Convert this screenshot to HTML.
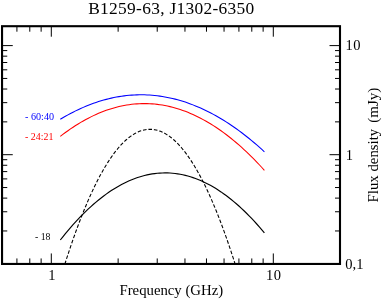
<!DOCTYPE html>
<html><head><meta charset="utf-8">
<style>
html,body{margin:0;padding:0;background:#fff;}
body{width:382px;height:299px;overflow:hidden;position:relative;}
svg{position:absolute;left:0;top:0;display:block;will-change:transform;}
text{font-family:"Liberation Serif",serif;fill:#000;}
</style></head><body>
<svg width="382" height="299" viewBox="0 0 382 299">
<rect x="0" y="0" width="382" height="299" fill="#fff"/>
<defs><clipPath id="cp"><rect x="2.05" y="26.2" width="337.95" height="237.75"/></clipPath></defs>
<g stroke="#000" stroke-width="1.0" fill="none">
<line x1="16.91" y1="26.2" x2="16.91" y2="31.7"/>
<line x1="16.91" y1="263.95" x2="16.91" y2="258.45"/>
<line x1="29.79" y1="26.2" x2="29.79" y2="31.7"/>
<line x1="29.79" y1="263.95" x2="29.79" y2="258.45"/>
<line x1="41.14" y1="26.2" x2="41.14" y2="31.7"/>
<line x1="41.14" y1="263.95" x2="41.14" y2="258.45"/>
<line x1="51.30" y1="26.2" x2="51.30" y2="36.7"/>
<line x1="51.30" y1="263.95" x2="51.30" y2="253.45"/>
<line x1="118.13" y1="26.2" x2="118.13" y2="31.7"/>
<line x1="118.13" y1="263.95" x2="118.13" y2="258.45"/>
<line x1="157.22" y1="26.2" x2="157.22" y2="31.7"/>
<line x1="157.22" y1="263.95" x2="157.22" y2="258.45"/>
<line x1="184.96" y1="26.2" x2="184.96" y2="31.7"/>
<line x1="184.96" y1="263.95" x2="184.96" y2="258.45"/>
<line x1="206.47" y1="26.2" x2="206.47" y2="31.7"/>
<line x1="206.47" y1="263.95" x2="206.47" y2="258.45"/>
<line x1="224.05" y1="26.2" x2="224.05" y2="31.7"/>
<line x1="224.05" y1="263.95" x2="224.05" y2="258.45"/>
<line x1="238.91" y1="26.2" x2="238.91" y2="31.7"/>
<line x1="238.91" y1="263.95" x2="238.91" y2="258.45"/>
<line x1="251.79" y1="26.2" x2="251.79" y2="31.7"/>
<line x1="251.79" y1="263.95" x2="251.79" y2="258.45"/>
<line x1="263.14" y1="26.2" x2="263.14" y2="31.7"/>
<line x1="263.14" y1="263.95" x2="263.14" y2="258.45"/>
<line x1="273.30" y1="26.2" x2="273.30" y2="36.7"/>
<line x1="273.30" y1="263.95" x2="273.30" y2="253.45"/>
<line x1="2.05" y1="230.96" x2="7.25" y2="230.96"/>
<line x1="340.0" y1="230.96" x2="335.0" y2="230.96"/>
<line x1="2.05" y1="211.75" x2="7.25" y2="211.75"/>
<line x1="340.0" y1="211.75" x2="335.0" y2="211.75"/>
<line x1="2.05" y1="198.12" x2="7.25" y2="198.12"/>
<line x1="340.0" y1="198.12" x2="335.0" y2="198.12"/>
<line x1="2.05" y1="187.54" x2="7.25" y2="187.54"/>
<line x1="340.0" y1="187.54" x2="335.0" y2="187.54"/>
<line x1="2.05" y1="178.90" x2="7.25" y2="178.90"/>
<line x1="340.0" y1="178.90" x2="335.0" y2="178.90"/>
<line x1="2.05" y1="171.60" x2="7.25" y2="171.60"/>
<line x1="340.0" y1="171.60" x2="335.0" y2="171.60"/>
<line x1="2.05" y1="165.27" x2="7.25" y2="165.27"/>
<line x1="340.0" y1="165.27" x2="335.0" y2="165.27"/>
<line x1="2.05" y1="159.69" x2="7.25" y2="159.69"/>
<line x1="340.0" y1="159.69" x2="335.0" y2="159.69"/>
<line x1="2.05" y1="154.70" x2="12.75" y2="154.70"/>
<line x1="340.0" y1="154.70" x2="329.5" y2="154.70"/>
<line x1="2.05" y1="121.86" x2="7.25" y2="121.86"/>
<line x1="340.0" y1="121.86" x2="335.0" y2="121.86"/>
<line x1="2.05" y1="102.65" x2="7.25" y2="102.65"/>
<line x1="340.0" y1="102.65" x2="335.0" y2="102.65"/>
<line x1="2.05" y1="89.02" x2="7.25" y2="89.02"/>
<line x1="340.0" y1="89.02" x2="335.0" y2="89.02"/>
<line x1="2.05" y1="78.44" x2="7.25" y2="78.44"/>
<line x1="340.0" y1="78.44" x2="335.0" y2="78.44"/>
<line x1="2.05" y1="69.80" x2="7.25" y2="69.80"/>
<line x1="340.0" y1="69.80" x2="335.0" y2="69.80"/>
<line x1="2.05" y1="62.50" x2="7.25" y2="62.50"/>
<line x1="340.0" y1="62.50" x2="335.0" y2="62.50"/>
<line x1="2.05" y1="56.17" x2="7.25" y2="56.17"/>
<line x1="340.0" y1="56.17" x2="335.0" y2="56.17"/>
<line x1="2.05" y1="50.59" x2="7.25" y2="50.59"/>
<line x1="340.0" y1="50.59" x2="335.0" y2="50.59"/>
<line x1="2.05" y1="45.60" x2="12.75" y2="45.60"/>
<line x1="340.0" y1="45.60" x2="329.5" y2="45.60"/>
</g>
<g clip-path="url(#cp)" fill="none">
<path d="M60.00,279.96 L61.50,274.98 L63.00,270.08 L64.50,265.27 L66.00,260.54 L67.50,255.90 L69.00,251.33 L70.50,246.86 L72.00,242.46 L73.50,238.15 L75.00,233.93 L76.50,229.78 L78.00,225.72 L79.50,221.75 L81.00,217.85 L82.50,214.05 L84.00,210.32 L85.50,206.68 L87.00,203.12 L88.50,199.65 L90.00,196.26 L91.50,192.95 L93.00,189.73 L94.50,186.59 L96.00,183.54 L97.50,180.57 L99.00,177.68 L100.50,174.87 L102.00,172.15 L103.50,169.52 L105.00,166.97 L106.50,164.50 L108.00,162.11 L109.50,159.81 L111.00,157.59 L112.50,155.46 L114.00,153.41 L115.50,151.44 L117.00,149.56 L118.50,147.76 L120.00,146.04 L121.50,144.41 L123.00,142.86 L124.50,141.39 L126.00,140.01 L127.50,138.72 L129.00,137.50 L130.50,136.37 L132.00,135.33 L133.50,134.36 L135.00,133.49 L136.50,132.69 L138.00,131.98 L139.50,131.35 L141.00,130.81 L142.50,130.35 L144.00,129.97 L145.50,129.68 L147.00,129.47 L148.50,129.34 L150.00,129.30 L151.50,129.34 L153.00,129.47 L154.50,129.68 L156.00,129.97 L157.50,130.35 L159.00,130.81 L160.50,131.35 L162.00,131.98 L163.50,132.69 L165.00,133.49 L166.50,134.36 L168.00,135.33 L169.50,136.37 L171.00,137.50 L172.50,138.72 L174.00,140.01 L175.50,141.39 L177.00,142.86 L178.50,144.41 L180.00,146.04 L181.50,147.76 L183.00,149.56 L184.50,151.44 L186.00,153.41 L187.50,155.46 L189.00,157.59 L190.50,159.81 L192.00,162.11 L193.50,164.50 L195.00,166.97 L196.50,169.52 L198.00,172.15 L199.50,174.87 L201.00,177.68 L202.50,180.57 L204.00,183.54 L205.50,186.59 L207.00,189.73 L208.50,192.95 L210.00,196.26 L211.50,199.65 L213.00,203.12 L214.50,206.68 L216.00,210.32 L217.50,214.05 L219.00,217.85 L220.50,221.75 L222.00,225.72 L223.50,229.78 L225.00,233.93 L226.50,238.15 L228.00,242.46 L229.50,246.86 L231.00,251.33 L232.50,255.90 L234.00,260.54 L235.50,265.27 L237.00,270.08 L238.50,274.98 L240.00,279.96" stroke="#000" stroke-width="1.08" stroke-dasharray="3.6 1.9"/>
<path d="M60.30,240.00 L62.85,236.78 L65.40,233.63 L67.95,230.57 L70.50,227.58 L73.06,224.67 L75.61,221.85 L78.16,219.10 L80.71,216.43 L83.26,213.84 L85.81,211.33 L88.36,208.90 L90.91,206.55 L93.47,204.28 L96.02,202.09 L98.57,199.97 L101.12,197.94 L103.67,195.99 L106.22,194.11 L108.77,192.32 L111.32,190.60 L113.88,188.96 L116.43,187.41 L118.98,185.93 L121.53,184.53 L124.08,183.21 L126.63,181.97 L129.18,180.81 L131.73,179.73 L134.29,178.73 L136.84,177.81 L139.39,176.96 L141.94,176.20 L144.49,175.52 L147.04,174.91 L149.59,174.39 L152.14,173.94 L154.70,173.57 L157.25,173.29 L159.80,173.08 L162.35,172.95 L164.90,172.90 L167.45,172.93 L170.00,173.04 L172.55,173.23 L175.11,173.50 L177.66,173.85 L180.21,174.27 L182.76,174.78 L185.31,175.37 L187.86,176.03 L190.41,176.78 L192.96,177.60 L195.52,178.50 L198.07,179.49 L200.62,180.55 L203.17,181.69 L205.72,182.91 L208.27,184.21 L210.82,185.59 L213.38,187.05 L215.93,188.59 L218.48,190.21 L221.03,191.90 L223.58,193.68 L226.13,195.54 L228.68,197.47 L231.23,199.49 L233.78,201.58 L236.34,203.75 L238.89,206.01 L241.44,208.34 L243.99,210.75 L246.54,213.24 L249.09,215.81 L251.64,218.46 L254.19,221.19 L256.75,224.00 L259.30,226.89 L261.85,229.85 L264.40,232.90" stroke="#000" stroke-width="1.15"/>
<path d="M60.30,136.40 L62.85,134.44 L65.40,132.54 L67.95,130.70 L70.50,128.93 L73.06,127.21 L75.61,125.55 L78.16,123.95 L80.71,122.42 L83.26,120.94 L85.81,119.52 L88.36,118.17 L90.91,116.87 L93.47,115.64 L96.02,114.46 L98.57,113.35 L101.12,112.29 L103.67,111.30 L106.22,110.36 L108.77,109.49 L111.32,108.68 L113.88,107.93 L116.43,107.23 L118.98,106.60 L121.53,106.03 L124.08,105.52 L126.63,105.07 L129.18,104.68 L131.73,104.35 L134.29,104.08 L136.84,103.87 L139.39,103.72 L141.94,103.63 L144.49,103.60 L147.04,103.63 L149.59,103.72 L152.14,103.88 L154.70,104.09 L157.25,104.36 L159.80,104.69 L162.35,105.09 L164.90,105.54 L167.45,106.06 L170.00,106.63 L172.55,107.27 L175.11,107.96 L177.66,108.72 L180.21,109.53 L182.76,110.41 L185.31,111.35 L187.86,112.34 L190.41,113.40 L192.96,114.52 L195.52,115.69 L198.07,116.93 L200.62,118.23 L203.17,119.59 L205.72,121.01 L208.27,122.49 L210.82,124.03 L213.38,125.63 L215.93,127.29 L218.48,129.01 L221.03,130.79 L223.58,132.63 L226.13,134.53 L228.68,136.50 L231.23,138.52 L233.78,140.60 L236.34,142.74 L238.89,144.95 L241.44,147.21 L243.99,149.54 L246.54,151.92 L249.09,154.36 L251.64,156.87 L254.19,159.44 L256.75,162.06 L259.30,164.75 L261.85,167.49 L264.40,170.30" stroke="#ff0000" stroke-width="1.05"/>
<path d="M60.30,119.30 L62.85,117.78 L65.40,116.30 L67.95,114.88 L70.50,113.50 L73.06,112.18 L75.61,110.90 L78.16,109.67 L80.71,108.49 L83.26,107.36 L85.81,106.27 L88.36,105.24 L90.91,104.25 L93.47,103.32 L96.02,102.43 L98.57,101.59 L101.12,100.80 L103.67,100.06 L106.22,99.37 L108.77,98.72 L111.32,98.13 L113.88,97.58 L116.43,97.09 L118.98,96.64 L121.53,96.24 L124.08,95.89 L126.63,95.59 L129.18,95.33 L131.73,95.13 L134.29,94.98 L136.84,94.87 L139.39,94.81 L141.94,94.80 L144.49,94.84 L147.04,94.93 L149.59,95.07 L152.14,95.26 L154.70,95.49 L157.25,95.78 L159.80,96.11 L162.35,96.49 L164.90,96.92 L167.45,97.40 L170.00,97.93 L172.55,98.51 L175.11,99.13 L177.66,99.81 L180.21,100.53 L182.76,101.30 L185.31,102.12 L187.86,102.99 L190.41,103.91 L192.96,104.88 L195.52,105.90 L198.07,106.96 L200.62,108.08 L203.17,109.24 L205.72,110.45 L208.27,111.71 L210.82,113.02 L213.38,114.38 L215.93,115.79 L218.48,117.24 L221.03,118.75 L223.58,120.30 L226.13,121.90 L228.68,123.56 L231.23,125.26 L233.78,127.00 L236.34,128.80 L238.89,130.65 L241.44,132.54 L243.99,134.49 L246.54,136.48 L249.09,138.52 L251.64,140.61 L254.19,142.75 L256.75,144.94 L259.30,147.18 L261.85,149.47 L264.40,151.80" stroke="#0000ff" stroke-width="1.05"/>
</g>
<rect x="2.05" y="26.2" width="337.95" height="237.75" fill="none" stroke="#000" stroke-width="2.1"/>
<text transform="translate(171.4,13.5) scale(1.0,1)" font-size="17.4" text-anchor="middle" letter-spacing="0.3" style="fill:#000" xml:space="preserve">B1259-63, J1302-6350</text>
<text transform="translate(171.3,294.7) scale(1.005,1)" font-size="14.7" text-anchor="middle" letter-spacing="0" style="fill:#000" xml:space="preserve">Frequency (GHz)</text>
<text transform="translate(377.9,202.4) rotate(-90)" font-size="14.8" xml:space="preserve">Flux density  <tspan dx="-1.3" font-size="15">(mJy)</tspan></text>
<text transform="translate(51.8,279.7) scale(1.0,1)" font-size="14.5" text-anchor="middle" letter-spacing="0" style="fill:#000" xml:space="preserve">1</text>
<text transform="translate(273.7,279.7) scale(1.0,1)" font-size="14.5" text-anchor="middle" letter-spacing="0.5" style="fill:#000" xml:space="preserve">10</text>
<text transform="translate(345.6,50.4) scale(1.0,1)" font-size="14.5" text-anchor="start" letter-spacing="0.5" style="fill:#000" xml:space="preserve">10</text>
<text transform="translate(345.7,160.0) scale(1.0,1)" font-size="14.5" text-anchor="start" letter-spacing="0" style="fill:#000" xml:space="preserve">1</text>
<text transform="translate(345.3,268.5) scale(1.0,1)" font-size="14.5" text-anchor="start" letter-spacing="0" style="fill:#000" xml:space="preserve">0,1</text>
<text transform="translate(25,120.2) scale(1.07,1)" font-size="9.5" text-anchor="start" letter-spacing="0" style="fill:#0000ff" xml:space="preserve">- 60:40</text>
<text transform="translate(25,140.2) scale(1.045,1)" font-size="9.5" text-anchor="start" letter-spacing="0" style="fill:#ff0000" xml:space="preserve">- 24:21</text>
<text transform="translate(35,239.5) scale(1.03,1)" font-size="9.5" text-anchor="start" letter-spacing="0" style="fill:#000" xml:space="preserve">- 18</text>
</svg>
</body></html>
